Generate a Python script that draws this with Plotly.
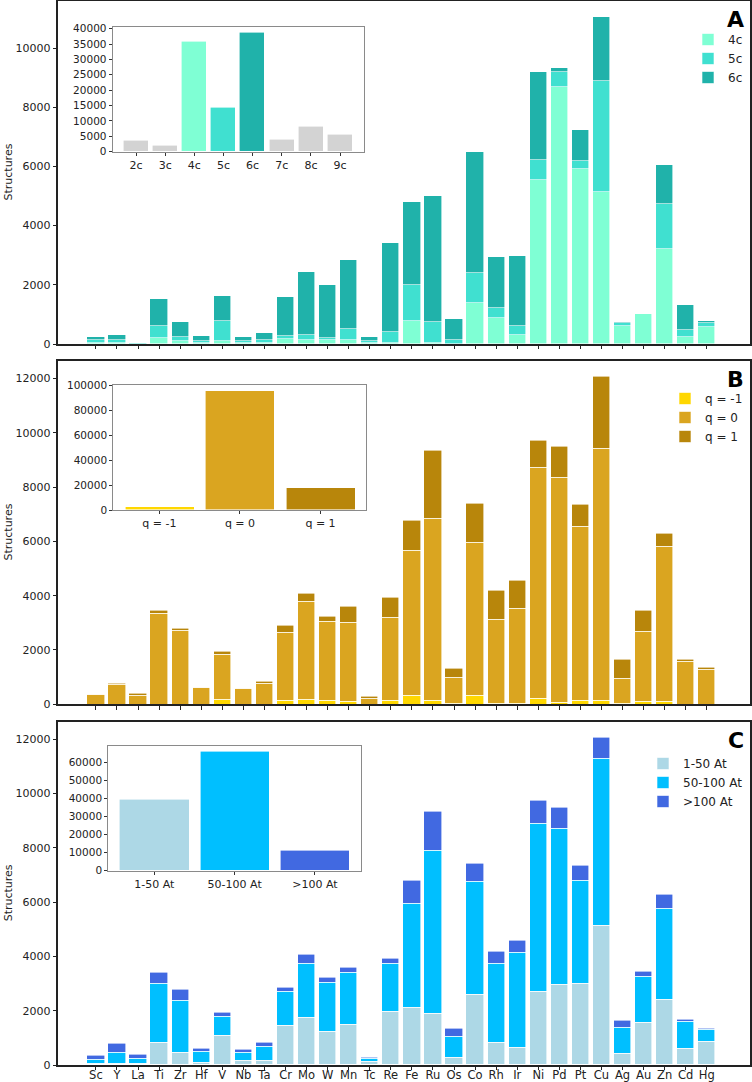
import plotly.graph_objects as go

elements = ["Sc", "Y", "La", "Ti", "Zr", "Hf", "V", "Nb", "Ta", "Cr", "Mo", "W", "Mn", "Tc", "Re",
            "Fe", "Ru", "Os", "Co", "Rh", "Ir", "Ni", "Pd", "Pt", "Cu", "Ag", "Au", "Zn", "Cd", "Hg"]

# Panel A: coordination number
coord_4c = [30, 30, 10, 203, 113, 30, 101, 30, 40, 169, 135, 120, 135, 40, 50,
            777, 20, 10, 1396, 867, 304, 5540, 8693, 5923, 5124, 619, 1013, 3220, 248, 574]
coord_5c = [105, 105, 10, 405, 123, 71, 665, 71, 106, 101, 180, 94, 372, 73, 344,
            1216, 723, 125, 1013, 349, 304, 687, 505, 259, 3760, 79, 0, 1509, 236, 135]
coord_6c = [91, 169, 25, 912, 507, 180, 867, 147, 226, 1329, 2128, 1790, 2331, 135, 3006,
            2804, 4257, 721, 4077, 1723, 2365, 2971, 113, 1047, 2152, 45, 0, 1307, 844, 68]
coord_labels = ["2c", "3c", "4c", "5c", "6c", "7c", "8c", "9c"]
coord_totals = [3676, 1946, 35784, 14162, 38703, 4000, 8000, 5405]

# Panel B: charge
charge_m1 = [0, 0, 0, 0, 0, 0, 160, 0, 0, 135, 160, 123, 98, 0, 123,
             332, 123, 20, 307, 25, 37, 221, 49, 123, 123, 25, 98, 86, 0, 0]
charge_0 = [359, 725, 332, 3343, 2728, 615, 1671, 578, 774, 2495, 3601, 2925, 2901, 209, 3060,
            5321, 6723, 951, 5641, 3072, 3466, 8493, 8296, 6415, 9279, 921, 2557, 5727, 1573, 1278]
charge_p1 = [10, 49, 49, 86, 50, 0, 111, 0, 49, 246, 319, 184, 590, 61, 725,
             1119, 2482, 344, 1451, 1094, 1057, 995, 1131, 824, 2642, 689, 798, 467, 86, 74]
charge_labels = ["q = -1", "q = 0", "q = 1"]
charge_totals = [2681, 95576, 17962]

# Panel C: size (atoms)
size_small = [60, 30, 60, 811, 455, 86, 1069, 172, 172, 1463, 1757, 1229, 1487, 123, 1954,
              2102, 1893, 270, 2593, 823, 651, 2716, 2974, 3011, 5125, 418, 1573, 2409, 615, 873]
size_mid = [149, 425, 186, 2188, 1905, 418, 725, 283, 516, 1253, 1967, 1794, 1917, 123, 1782,
            3846, 6022, 775, 4167, 2926, 3491, 6170, 5740, 3785, 6157, 958, 1672, 3355, 983, 442]
size_large = [147, 319, 123, 418, 418, 111, 148, 110, 123, 148, 344, 197, 172, 24, 172,
              836, 1425, 282, 651, 442, 430, 835, 762, 566, 762, 259, 208, 516, 61, 37]
size_labels = ["1-50 At", "50-100 At", ">100 At"]
size_totals = [39114, 65867, 11070]

W, H = 752, 1082
FONT = "DejaVu Sans"
TXT = "#222222"


def px_x(p):
    return p / W


def px_y(p):
    return 1 - p / H


fig = go.Figure()

panels = [
    dict(series=[("4c", coord_4c, "#7FFFD4"), ("5c", coord_5c, "#40E0D0"), ("6c", coord_6c, "#20B2AA")],
         inset_labels=coord_labels, inset_vals=coord_totals,
         inset_colors=["#D3D3D3", "#D3D3D3", "#7FFFD4", "#40E0D0", "#20B2AA", "#D3D3D3", "#D3D3D3", "#D3D3D3"],
         legend="legend"),
    dict(series=[("q = -1", charge_m1, "#FFD700"), ("q = 0", charge_0, "#DAA520"), ("q = 1", charge_p1, "#B8860B")],
         inset_labels=charge_labels, inset_vals=charge_totals,
         inset_colors=["#FFD700", "#DAA520", "#B8860B"], legend="legend2"),
    dict(series=[("1-50 At", size_small, "#ADD8E6"), ("50-100 At", size_mid, "#00BFFF"), (">100 At", size_large, "#4169E1")],
         inset_labels=size_labels, inset_vals=size_totals,
         inset_colors=["#ADD8E6", "#00BFFF", "#4169E1"], legend="legend3"),
]

for i, p in enumerate(panels):
    main_ax = 2 * i + 1
    ins_ax = 2 * i + 2
    xm = "x" if main_ax == 1 else f"x{main_ax}"
    ym = "y" if main_ax == 1 else f"y{main_ax}"
    for name, vals, col in p["series"]:
        fig.add_trace(go.Bar(x=elements, y=vals, name=name, marker_color=col,
                             marker_line=dict(color="white", width=0.6), width=0.82,
                             xaxis=xm, yaxis=ym, legend=p["legend"]))
    fig.add_trace(go.Bar(x=p["inset_labels"], y=p["inset_vals"], marker_color=p["inset_colors"],
                         marker_line=dict(color="white", width=0.6), width=0.86,
                         xaxis=f"x{ins_ax}", yaxis=f"y{ins_ax}", showlegend=False))

main_y = [(1, 344), (360.7, 704.3), (721.7, 1065)]
main_yrange = [11590, 12650, 12650]
main_ticks = [list(range(0, 10001, 2000)), list(range(0, 12001, 2000)), list(range(0, 12001, 2000))]
inset_boxes = [((112.7, 364), (26.7, 151.7)), ((113.3, 366), (385, 510)), ((108.3, 361), (745.7, 870.7))]
inset_xrange = [[-0.8, 7.82], [-0.573, 2.565], [-0.573, 2.573]]
inset_yrange = [40635, 100400, 69160]
inset_ticks = [list(range(0, 40001, 5000)), list(range(0, 100001, 20000)), list(range(0, 60001, 10000))]

layout = dict(
    width=W, height=H, margin=dict(l=0, r=0, t=0, b=0),
    paper_bgcolor="white", plot_bgcolor="white",
    barmode="stack", bargap=0,
    font=dict(family=FONT, size=11, color=TXT),
)

for i in range(3):
    main_ax = 2 * i + 1
    ins_ax = 2 * i + 2
    xk = "xaxis" if main_ax == 1 else f"xaxis{main_ax}"
    yk = "yaxis" if main_ax == 1 else f"yaxis{main_ax}"
    ya = "y" if main_ax == 1 else f"y{main_ax}"
    xa = "x" if main_ax == 1 else f"x{main_ax}"
    t, b = main_y[i]
    layout[xk] = dict(domain=[px_x(58), px_x(750)], anchor=ya, range=[-1.8, 31.05],
                      type="category", showline=True, mirror=True, linecolor="#222", linewidth=1.6,
                      ticks="outside", ticklen=3.5, tickwidth=1, tickcolor="#222",
                      showticklabels=(i == 2), tickfont=dict(size=11.5, color=TXT),
                      ticklabelstandoff=-5,
                      showgrid=False, zeroline=False, automargin=False)
    layout[yk] = dict(domain=[px_y(b), px_y(t)], anchor=xa, range=[0, main_yrange[i]],
                      tickvals=main_ticks[i], tickformat="d", showline=True, mirror=True,
                      linecolor="#222", linewidth=1.6,
                      ticks="outside", ticklen=3.5, tickwidth=1, tickcolor="#222",
                      tickfont=dict(size=11, color=TXT), showgrid=False, zeroline=False, automargin=False)
    (xl, xr), (yt, yb) = inset_boxes[i]
    layout[f"xaxis{ins_ax}"] = dict(domain=[px_x(xl), px_x(xr)], anchor=f"y{ins_ax}", range=inset_xrange[i],
                                    type="category", showline=True, mirror=True, linecolor="#8a8a8a", linewidth=1.2,
                                    ticks="outside", ticklen=3, tickwidth=1, tickcolor="#333",
                                    tickfont=dict(size=11, color=TXT), showgrid=False, zeroline=False,
                                    automargin=False)
    layout[f"yaxis{ins_ax}"] = dict(domain=[px_y(yb), px_y(yt)], anchor=f"x{ins_ax}", range=[0, inset_yrange[i]],
                                    tickvals=inset_ticks[i], tickformat="d", showline=True, mirror=True,
                                    linecolor="#8a8a8a",
                                    linewidth=1.2, ticks="outside", ticklen=3, tickwidth=1, tickcolor="#333",
                                    tickfont=dict(size=10.5, color=TXT), showgrid=False, zeroline=False,
                                    automargin=False)

legend_tops = [25, 384, 749]
for i, lk in enumerate(["legend", "legend2", "legend3"]):
    layout[lk] = dict(x=px_x(748), xanchor="right", y=px_y(legend_tops[i]), yanchor="top",
                      traceorder="normal", bgcolor="rgba(255,255,255,0)", borderwidth=0,
                      font=dict(size=12, color=TXT), tracegroupgap=0, itemwidth=30)

annotations = []
for letter, (t, b) in zip(["A", "B", "C"], main_y):
    annotations.append(dict(text=f"<b>{letter}</b>", x=px_x(746), y=px_y(t + 4), xref="paper", yref="paper",
                            xanchor="right", yanchor="top", showarrow=False,
                            font=dict(size=22, family=FONT, color="black")))
    annotations.append(dict(text="Structures", x=px_x(8), y=px_y((t + b) / 2), xref="paper", yref="paper",
                            xanchor="center", yanchor="middle", textangle=-90, showarrow=False,
                            font=dict(size=11, family=FONT, color=TXT)))
layout["annotations"] = annotations

fig.update_layout(**layout)
fig.write_html("out.html", config={"displayModeBar": False},
               post_script="document.body.style.margin='0';document.body.style.overflow='hidden';")
